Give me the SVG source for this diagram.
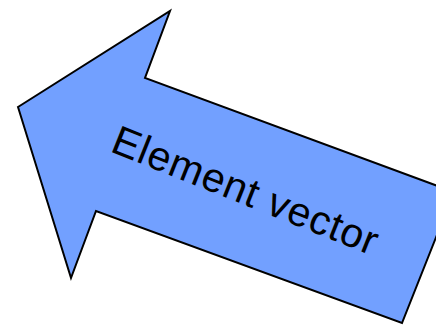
<svg xmlns="http://www.w3.org/2000/svg" width="436" height="325" viewBox="0 0 436 325">
<style>
.arrow{fill:#72a0ff;stroke:#000;stroke-width:2;stroke-linejoin:miter}
.lbl{font-family:"Liberation Sans",Arial,sans-serif;font-size:41px;letter-spacing:0.7px;fill:#000}
</style>
<rect width="436" height="325" fill="#fff"/>
<g id="arrow">
<polygon class="arrow" points="18,107 170,11 145,78 454,192 402,323 96,211 71,278"/>
<text class="lbl" x="109" y="151" transform="rotate(21.7 109 151)">Element vector</text>
</g>
</svg>
